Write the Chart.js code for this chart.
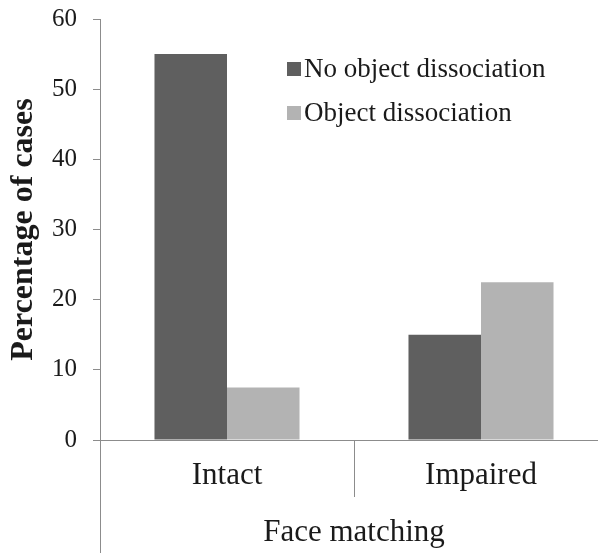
<!DOCTYPE html>
<html>
<head>
<meta charset="utf-8">
<script src="https://cdn.jsdelivr.net/npm/chart.js@4"></script>
<style>
  html, body { margin: 0; padding: 0; background: #fff; overflow: hidden; }
  #wrap { width: 598px; height: 553px; overflow: hidden; position: relative; }
  #wrap canvas { position: absolute; left: 0; top: 0; }
</style>
</head>
<body>
<div id="wrap"><canvas id="chart" width="612" height="553"></canvas></div>
<script>
// data
const categories = ['Intact', 'Impaired'];
const seriesNames = ['No object dissociation', 'Object dissociation'];
const noObjectDiss = [55, 15];
const objectDiss = [7.5, 22.5];
const yTicks = [0, 10, 20, 30, 40, 50, 60];

const axisGray = '#8c8c8c';
const textColor = '#1a1a1a';
const serif = '"Liberation Serif", "Times New Roman", serif';

// legend sits inside the plot, Excel style
const insideLegend = {
  id: 'insideLegend',
  afterDatasetsDraw(chart) {
    const ctx = chart.ctx;
    ctx.save();
    ctx.font = '27px ' + serif;
    ctx.textBaseline = 'alphabetic';
    chart.data.datasets.forEach((ds, i) => {
      const base = 77 + i * 44;
      ctx.fillStyle = ds.backgroundColor;
      ctx.fillRect(287, base - 15, 14, 14);
      ctx.fillStyle = textColor;
      ctx.fillText(ds.label, 304, base);
    });
    ctx.restore();
  }
};

// y axis line runs down past the category labels
const axisExtend = {
  id: 'axisExtend',
  afterDraw(chart) {
    const x = chart.scales.x;
    const ctx = chart.ctx;
    ctx.save();
    ctx.strokeStyle = axisGray;
    ctx.lineWidth = 1;
    ctx.beginPath();
    ctx.moveTo(x.left + 0.5, x.top);
    ctx.lineTo(x.left + 0.5, chart.height);
    ctx.stroke();
    ctx.restore();
  }
};

new Chart(document.getElementById('chart'), {
  type: 'bar',
  data: {
    labels: categories,
    datasets: [
      { label: seriesNames[0], data: noObjectDiss, backgroundColor: '#5f5f5f' },
      { label: seriesNames[1], data: objectDiss, backgroundColor: '#b3b3b3' }
    ]
  },
  options: {
    responsive: false,
    animation: false,
    devicePixelRatio: 1,
    categoryPercentage: 0.571,
    barPercentage: 1,
    layout: { padding: { top: 19, right: 4, left: 0, bottom: 0 } },
    plugins: {
      legend: { display: false },
      tooltip: { enabled: false }
    },
    scales: {
      x: {
        afterFit: (s) => { s.height = 113; s.paddingLeft = 0; s.paddingRight = 0; },
        border: { color: axisGray },
        grid: { offset: true, drawOnChartArea: false, tickLength: 57, color: axisGray },
        ticks: { color: textColor, font: { family: serif, size: 31 }, padding: -40 },
        title: {
          display: true, text: 'Face matching', color: textColor,
          font: { family: serif, size: 31 }, padding: { top: 0, bottom: 2 }
        }
      },
      y: {
        min: 0, max: 60,
        afterFit: (s) => { s.width = 100; s.paddingTop = 0; s.paddingBottom = 0; },
        afterBuildTicks: (s) => { s.ticks = yTicks.map(v => ({ value: v })); },
        border: { color: axisGray },
        grid: { drawOnChartArea: false, tickLength: 7, color: axisGray },
        ticks: { color: textColor, font: { family: serif, size: 25 }, padding: 16 },
        title: {
          display: true, text: 'Percentage of cases', color: textColor,
          font: { family: serif, size: 32, weight: 'bold' }, padding: { top: 5, bottom: 0 }
        }
      }
    }
  },
  plugins: [insideLegend, axisExtend]
});
</script>
</body>
</html>
